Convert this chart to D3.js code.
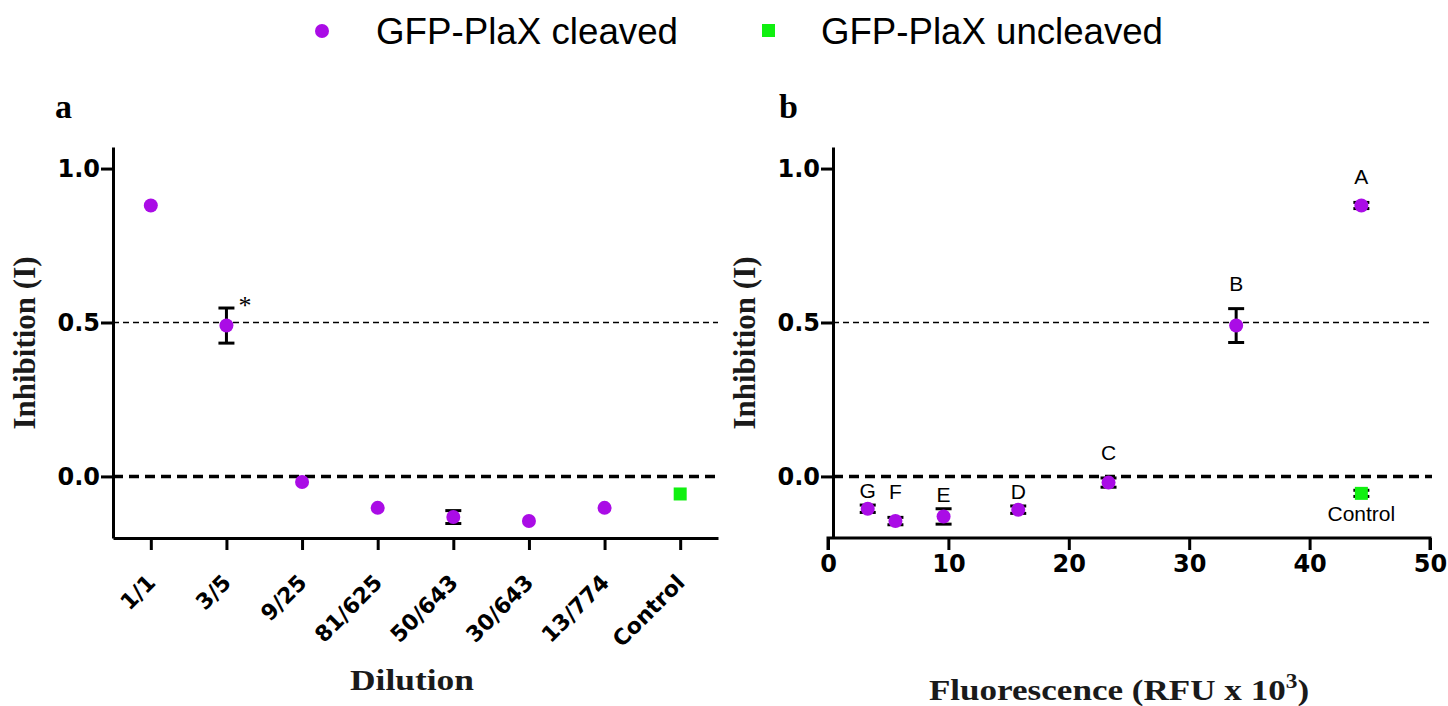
<!DOCTYPE html>
<html>
<head>
<meta charset="utf-8">
<script src="https://cdn.jsdelivr.net/npm/d3@7"></script>
<style>
  body { margin: 0; background: #fff; }
  .tick text { font-family: "DejaVu Sans", sans-serif; font-weight: bold; fill: #000; }
  .domain, .tick line { stroke: #000; stroke-width: 3; }
  .title { font-family: "Liberation Serif", "Times New Roman", serif; font-weight: bold; fill: #1a1a1a; }
  .sans { font-family: "Liberation Sans", Arial, sans-serif; }
</style>
</head>
<body>
<script>
// panel a: dilution series
var dilutions = ["1/1", "3/5", "9/25", "81/625", "50/643", "30/643", "13/774", "Control"];
var cleavedA = [0.88, 0.49, -0.018, -0.102, -0.132, -0.145, -0.102];
var cleavedAErr = [0, 0.057, 0, 0, 0.021, 0, 0];
var uncleavedA = [{cat: "Control", value: -0.057}];

// panel b: fluorescence vs inhibition
var sampleLabels = ["A", "B", "C", "D", "E", "F", "G"];
var fluorescence = [44.3, 33.9, 23.3, 15.8, 9.6, 5.6, 3.3];
var cleavedB = [0.88, 0.49, -0.02, -0.108, -0.13, -0.145, -0.105];
var cleavedBErr = [0.01, 0.055, 0.015, 0.012, 0.025, 0.012, 0.012];
var controlB = {x: 44.3, value: -0.055, err: 0.01};

var yTicks = [0, 0.5, 1.0];
var xTicksB = [0, 10, 20, 30, 40, 50];

var purple = "#aa0ce6";
var green = "#10f010";

var width = 1448, height = 706;
var svg = d3.select("body").append("svg")
    .attr("width", width)
    .attr("height", height);

// legend
var legend = svg.append("g");
legend.append("circle").attr("cx", 322).attr("cy", 31).attr("r", 7).attr("fill", purple);
legend.append("text").attr("class", "sans").attr("x", 376).attr("y", 44)
    .style("font-size", "36px").attr("textLength", 302).attr("lengthAdjust", "spacingAndGlyphs")
    .text("GFP-PlaX cleaved");
legend.append("rect").attr("x", 762).attr("y", 24).attr("width", 13).attr("height", 13).attr("fill", green);
legend.append("text").attr("class", "sans").attr("x", 821).attr("y", 44)
    .style("font-size", "36px").attr("textLength", 342).attr("lengthAdjust", "spacingAndGlyphs")
    .text("GFP-PlaX uncleaved");

var yScale = d3.scaleLinear().domain([-0.2, 1.07]).range([538, 147]);

function drawYAxis(g, x0, x1) {
    var yAxis = d3.axisLeft(yScale).tickValues(yTicks).tickFormat(d3.format(".1f"))
        .tickSize(12).tickSizeOuter(0).tickPadding(1);
    var ga = g.append("g").attr("transform", "translate(" + x0 + ",0)").call(yAxis);
    ga.selectAll(".tick text").style("font-size", "24px");

    g.append("line").attr("x1", x0).attr("x2", x1)
        .attr("y1", yScale(0.5)).attr("y2", yScale(0.5))
        .attr("stroke", "#000").attr("stroke-width", 1.7).attr("stroke-dasharray", "6,4");
    g.append("line").attr("x1", x0).attr("x2", x1)
        .attr("y1", yScale(0)).attr("y2", yScale(0))
        .attr("stroke", "#000").attr("stroke-width", 3.5).attr("stroke-dasharray", "10,6");
}

function errorBar(g, x, lo, hi) {
    g.append("line").attr("x1", x).attr("x2", x).attr("y1", yScale(lo)).attr("y2", yScale(hi))
        .attr("stroke", "#000").attr("stroke-width", 3);
    [lo, hi].forEach(function(v) {
        g.append("line").attr("x1", x - 8).attr("x2", x + 8).attr("y1", yScale(v)).attr("y2", yScale(v))
            .attr("stroke", "#000").attr("stroke-width", 3);
    });
}

// ---------- panel a ----------
var ga = svg.append("g");
var xA = d3.scalePoint().domain(dilutions).range([113, 718]).padding(0.5);

drawYAxis(ga, 113, 718);

var xAxisA = d3.axisBottom(xA).tickSize(12).tickSizeOuter(0).tickFormat("");
ga.append("g").attr("transform", "translate(0,538)").call(xAxisA);

ga.selectAll("text.xlab")
    .data(dilutions)
    .enter()
    .append("text")
    .attr("class", "xlab")
    .attr("transform", function(d) { return "translate(" + (xA(d) + 6) + ",584) rotate(-45)"; })
    .attr("text-anchor", "end")
    .style("font-family", "DejaVu Sans, sans-serif")
    .style("font-weight", "bold")
    .style("font-size", "22px")
    .text(function(d) { return d; });

cleavedA.forEach(function(v, i) {
    if (cleavedAErr[i] > 0) errorBar(ga, xA(dilutions[i]), v - cleavedAErr[i], v + cleavedAErr[i]);
});
ga.selectAll("circle.pt")
    .data(cleavedA)
    .enter()
    .append("circle")
    .attr("class", "pt")
    .attr("cx", function(d, i) { return xA(dilutions[i]); })
    .attr("cy", function(d) { return yScale(d); })
    .attr("r", 7)
    .attr("fill", purple);
ga.selectAll("rect.pt")
    .data(uncleavedA)
    .enter()
    .append("rect")
    .attr("class", "pt")
    .attr("x", function(d) { return xA(d.cat) - 6.5; })
    .attr("y", function(d) { return yScale(d.value) - 6.5; })
    .attr("width", 13).attr("height", 13)
    .attr("fill", green);

ga.append("text").attr("x", xA("3/5") + 12).attr("y", yScale(cleavedA[1] + cleavedAErr[1]) + 6)
    .style("font-family", "Liberation Serif, serif").style("font-size", "26px")
    .text("*");

ga.append("text").attr("class", "title").attr("x", 55).attr("y", 118).style("font-size", "34px").style("fill", "#000").text("a");
ga.append("text").attr("class", "title")
    .attr("transform", "translate(412,690) scale(1.18,1)")
    .attr("text-anchor", "middle").style("font-size", "30px").text("Dilution");
ga.append("text").attr("class", "title")
    .attr("transform", "translate(35,343) rotate(-90)")
    .attr("text-anchor", "middle").style("font-size", "31px").text("Inhibition (I)");

// ---------- panel b ----------
var gb = svg.append("g");
var xB = d3.scaleLinear().domain([0, 50]).range([828, 1430]);

drawYAxis(gb, 833, 1432);

var xAxisB = d3.axisBottom(xB).tickValues(xTicksB).tickSize(12).tickPadding(5);
var gxb = gb.append("g").attr("transform", "translate(0,538)").call(xAxisB);
gxb.selectAll(".tick text").style("font-size", "24px");
gxb.select(".domain").attr("d", "M" + xB(0) + ",12V0H" + xB(50) + "V12");

fluorescence.forEach(function(f, i) {
    errorBar(gb, xB(f), cleavedB[i] - cleavedBErr[i], cleavedB[i] + cleavedBErr[i]);
});
errorBar(gb, xB(controlB.x), controlB.value - controlB.err, controlB.value + controlB.err);

gb.selectAll("circle.pt")
    .data(cleavedB)
    .enter()
    .append("circle")
    .attr("class", "pt")
    .attr("cx", function(d, i) { return xB(fluorescence[i]); })
    .attr("cy", function(d) { return yScale(d); })
    .attr("r", 7)
    .attr("fill", purple);

// letter labels sit above each point; below the zero line they hug the point more tightly
var zeroY = yScale(0);
gb.selectAll("text.lab")
    .data(sampleLabels)
    .enter()
    .append("text")
    .attr("class", "lab sans")
    .attr("x", function(d, i) { return xB(fluorescence[i]); })
    .attr("y", function(d, i) {
        var top = yScale(cleavedB[i] + cleavedBErr[i]);
        var base = top - 18;
        if (base > zeroY - 4 && base - 15 < zeroY + 4) base = top - 7;
        return base;
    })
    .attr("text-anchor", "middle")
    .style("font-size", "21px")
    .text(function(d) { return d; });

gb.append("rect")
    .attr("x", xB(controlB.x) - 6.5).attr("y", yScale(controlB.value) - 6.5)
    .attr("width", 13).attr("height", 13).attr("fill", green);
gb.append("text").attr("class", "sans").attr("x", xB(controlB.x)).attr("y", yScale(controlB.value) + 28)
    .attr("text-anchor", "middle").style("font-size", "21px")
    .text("Control");

gb.append("text").attr("class", "title").attr("x", 779).attr("y", 118).style("font-size", "34px").style("fill", "#000").text("b");
gb.append("text").attr("class", "title")
    .attr("transform", "translate(755,343) rotate(-90)")
    .attr("text-anchor", "middle").style("font-size", "31px").text("Inhibition (I)");
var ft = gb.append("text").attr("class", "title")
    .attr("transform", "translate(1119,700) scale(1.17,1)")
    .attr("text-anchor", "middle").style("font-size", "30px");
ft.append("tspan").text("Fluorescence (RFU x 10");
ft.append("tspan").attr("dy", -12).style("font-size", "20px").text("3");
ft.append("tspan").attr("dy", 12).text(")");
</script>
</body>
</html>
